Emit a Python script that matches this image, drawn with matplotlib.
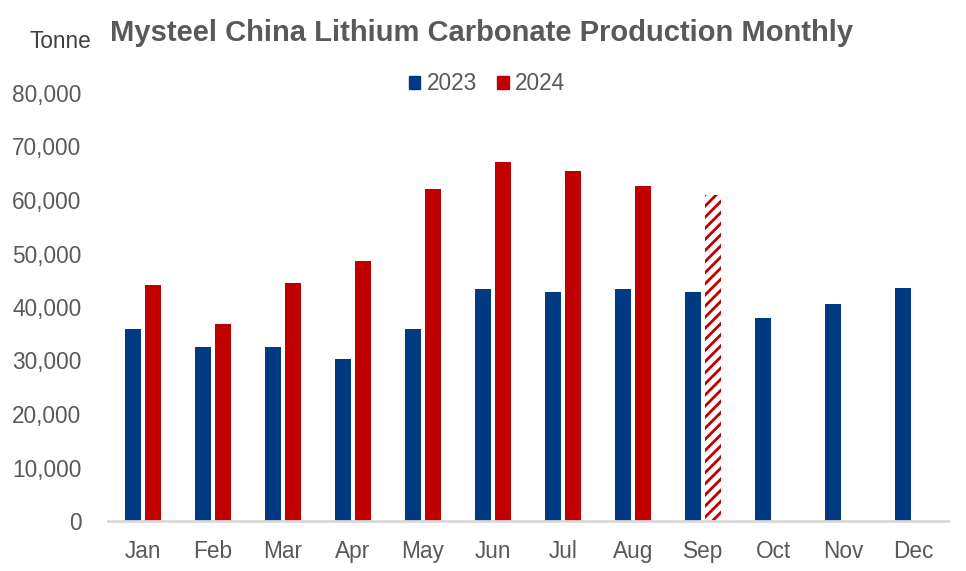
import matplotlib
matplotlib.use("Agg")
import matplotlib.pyplot as plt
import numpy as np
from matplotlib.patches import Patch

plt.rcParams['font.family'] = ['Liberation Sans', 'DejaVu Sans']
plt.rcParams['hatch.linewidth'] = 2.0

months = ["Jan", "Feb", "Mar", "Apr", "May", "Jun", "Jul", "Aug", "Sep", "Oct", "Nov", "Dec"]
prod_2023 = [35900, 32500, 32500, 30300, 35900, 43400, 42800, 43400, 42800, 37900, 40600, 43600]
prod_2024 = [44200, 36800, 44500, 48600, 62100, 67100, 65400, 62600, None, None, None, None]
prod_2024_est = [None] * 8 + [60900, None, None, None]

BLUE = "#003A82"
RED = "#C00000"
GRAY = "#595959"

fig = plt.figure(figsize=(9.66, 5.71), dpi=100)
ax = fig.add_axes([108/966, 50/571, 840/966, 428/571])

x = np.arange(len(months))
w = 16/70
off = 10/70

ax.bar(x - off, prod_2023, width=w, color=BLUE, label="2023")
idx24 = [i for i, v in enumerate(prod_2024) if v is not None]
ax.bar(x[idx24] + off, [prod_2024[i] for i in idx24], width=w, color=RED, label="2024")
idxe = [i for i, v in enumerate(prod_2024_est) if v is not None]
ax.bar(x[idxe] + off, [prod_2024_est[i] for i in idxe], width=w, facecolor="white",
       edgecolor=RED, hatch="///", linewidth=0)

ax.set_xlim(-0.5, 11.5)
ax.set_ylim(0, 80000)
ax.set_yticks(np.arange(0, 80001, 10000))
ax.set_yticklabels([f"{v:,}" for v in range(0, 80001, 10000)])
ax.set_xticks(x)
ax.set_xticklabels(months)
ax.tick_params(axis='both', length=0, labelsize=16.3, colors=GRAY, labelcolor=GRAY)
ax.tick_params(axis='y', pad=19)
ax.tick_params(axis='x', pad=14)
for s in ["top", "right", "left"]:
    ax.spines[s].set_visible(False)
ax.spines["bottom"].set_color("#D9D9D9")
ax.spines["bottom"].set_linewidth(2)

fig.text(110/966, 1 - 33/571, "Mysteel China Lithium Carbonate Production Monthly",
         fontsize=21, fontweight="bold", color=GRAY, va="center", ha="left")
fig.text(30/966, 1 - 42/571, "Tonne", fontsize=16.3, color="#404040", va="center", ha="left")

handles = [Patch(color=BLUE, label="2023"), Patch(color=RED, label="2024")]
fig.legend(handles=handles, loc="center", bbox_to_anchor=(487/966, 1 - 84/571), ncol=2,
           frameon=False, fontsize=16.3, handlelength=0.5, handleheight=0.5,
           handletextpad=0.3, columnspacing=0.9, labelcolor=GRAY)

fig.savefig("out.png", dpi=100)
